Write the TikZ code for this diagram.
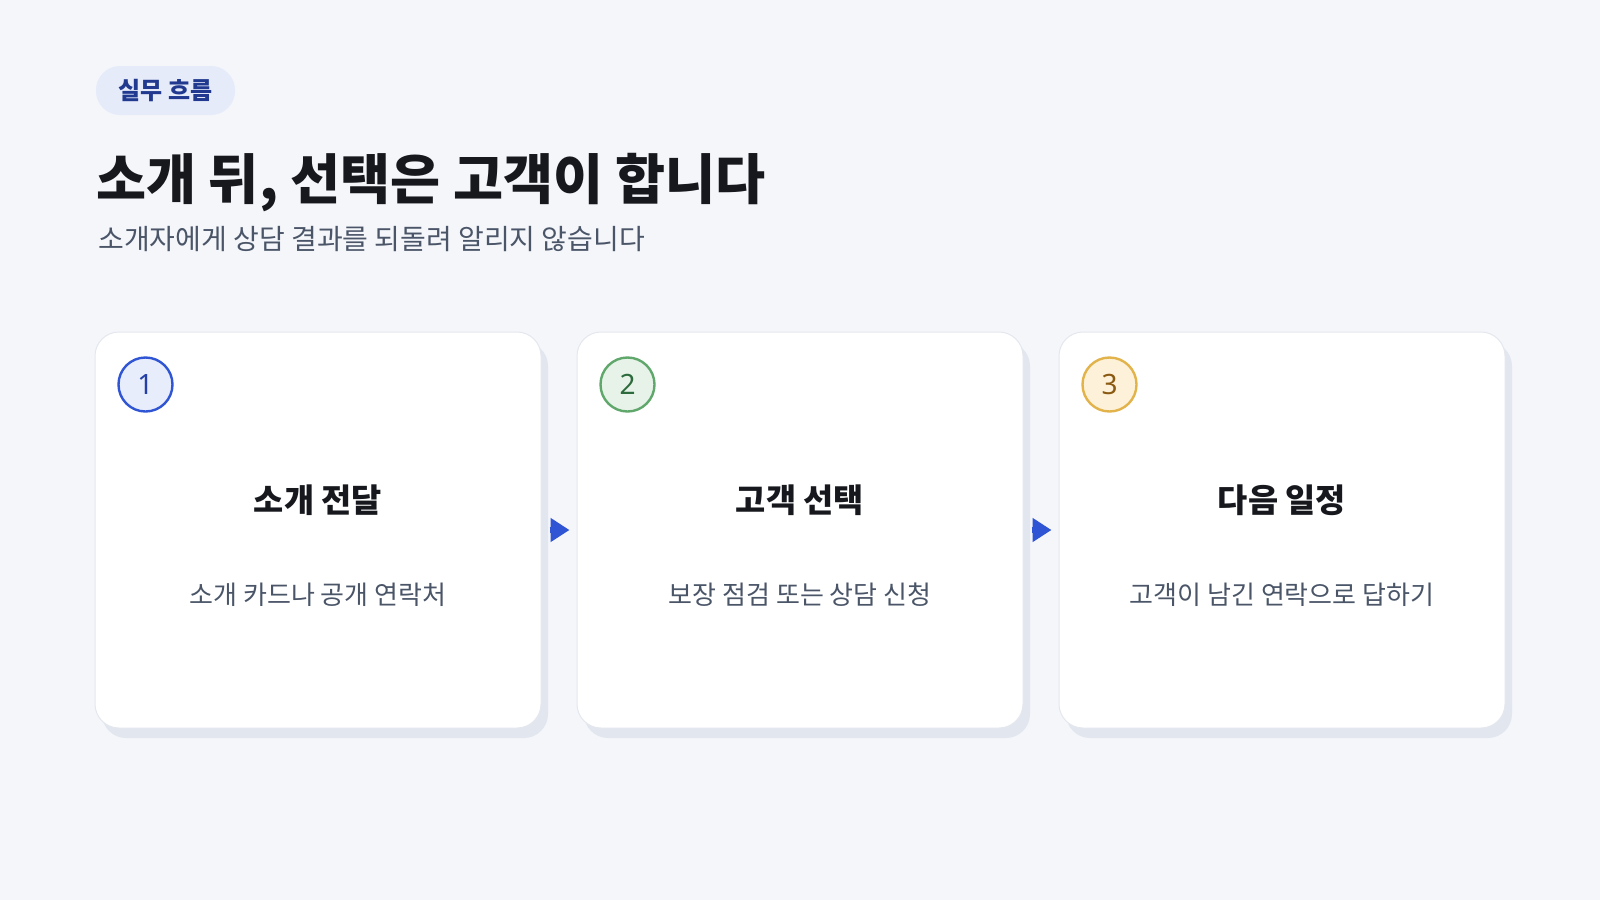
\documentclass[tikz,border=0pt]{standalone}
\usepackage{fontspec}
\setmainfont{Noto Sans CJK KR}
\newfontfamily\digitfont{Noto Sans}
\usepackage{tikz}
\usetikzlibrary{arrows.meta, shadows}
\definecolor{bgc}{HTML}{F4F6FA}
\definecolor{cardline}{HTML}{E4E7EE}
\definecolor{shadowc}{HTML}{E2E6EE}
\definecolor{titlec}{HTML}{16181D}
\definecolor{subc}{HTML}{4A5568}
\definecolor{pillfill}{HTML}{E6EBFA}
\definecolor{pilltext}{HTML}{213A8F}
\definecolor{blueline}{HTML}{2F55D4}
\definecolor{bluefill}{HTML}{E8EDFB}
\definecolor{bluetext}{HTML}{2440A8}
\definecolor{greenline}{HTML}{5FA76A}
\definecolor{greenfill}{HTML}{E7F3E9}
\definecolor{greentext}{HTML}{2E6B3C}
\definecolor{goldline}{HTML}{E2B34A}
\definecolor{goldfill}{HTML}{FDF1D9}
\definecolor{goldtext}{HTML}{8A5A12}
\tikzstyle{arrow} = [line width=3pt, blueline, -{Triangle[length=9.5pt, width=11.5pt]}, shorten <=4pt, shorten >=3.5pt]
\tikzstyle{card} = [rectangle, rounded corners=12pt, minimum width=223pt, minimum height=198pt, fill=white, draw=cardline, line width=0.5pt, drop shadow={shadow xshift=3.5pt, shadow yshift=-5pt, fill=shadowc, opacity=1}]
\tikzstyle{numc} = [circle, minimum size=27pt, inner sep=0pt, line width=1.2pt, font=\digitfont\fontsize{14}{16}\selectfont]
\tikzstyle{head} = [text=titlec, font=\fontsize{16.4}{19}\selectfont\bfseries]
\tikzstyle{desc} = [text=subc, font=\fontsize{13}{15}\selectfont]

\begin{document}
\begin{tikzpicture}[x=0.5pt, y=-0.5pt, node distance=241pt]
		\useasboundingbox [fill=bgc] (0,0) rectangle (1600,900);
		\node (tag) [rectangle, rounded corners=12pt, minimum width=69.5pt, minimum height=24.5pt, fill=pillfill, text=pilltext, font=\fontsize{12}{14}\selectfont\bfseries] at (165.5,90.5) {실무 흐름};
		\node (title) [anchor=west, inner sep=0pt, text=titlec, font=\fontsize{27.2}{31}\selectfont\bfseries] at (96,183) {소개 뒤, 선택은 고객이 합니다};
		\node (sub) [anchor=west, inner sep=0pt, text=subc, font=\fontsize{14}{16}\selectfont] at (98,239) {소개자에게 상담 결과를 되돌려 알리지 않습니다};
		\node (card1) [card] at (318,530) {};
		\node (card2) [card, right of=card1] {};
		\node (card3) [card, right of=card2] {};
		\node (num1) [numc, draw=blueline, fill=bluefill, text=bluetext] at ([xshift=25.5pt, yshift=-26.5pt]card1.north west) {1};
		\node (num2) [numc, draw=greenline, fill=greenfill, text=greentext] at ([xshift=25.5pt, yshift=-26.5pt]card2.north west) {2};
		\node (num3) [numc, draw=goldline, fill=goldfill, text=goldtext] at ([xshift=25.5pt, yshift=-26.5pt]card3.north west) {3};
		\node (head1) [head] at ([yshift=15pt]card1.center) {소개 전달};
		\node (head2) [head] at ([yshift=15pt]card2.center) {고객 선택};
		\node (head3) [head] at ([yshift=15pt]card3.center) {다음 일정};
		\node (desc1) [desc] at ([yshift=-32.5pt]card1.center) {소개 카드나 공개 연락처};
		\node (desc2) [desc] at ([yshift=-32.5pt]card2.center) {보장 점검 또는 상담 신청};
		\node (desc3) [desc] at ([yshift=-32.5pt]card3.center) {고객이 남긴 연락으로 답하기};
		\draw [arrow] (card1.east) -- (card2.west);
		\draw [arrow] (card2.east) -- (card3.west);
	\end{tikzpicture}
\end{document}
